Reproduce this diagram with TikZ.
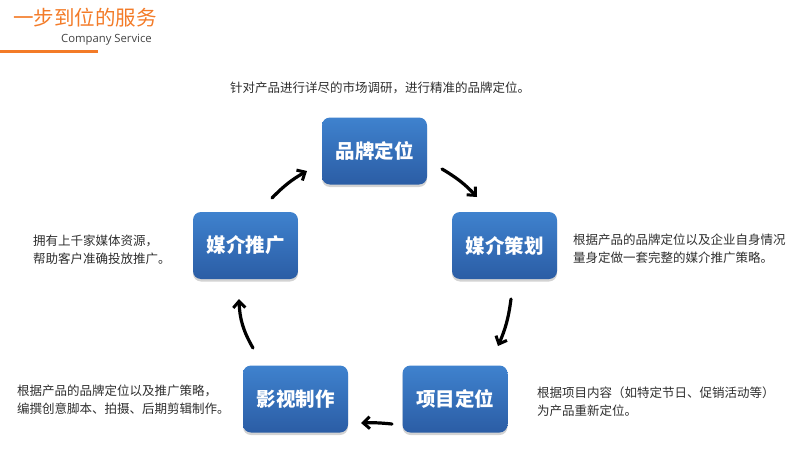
\documentclass[tikz,border=0pt]{standalone}
\usepackage{fontspec}
\setmainfont{Open Sans}
\newfontfamily\cjk{Noto Sans CJK SC}
\usetikzlibrary{arrows.meta,shadows}
\definecolor{headorange}{HTML}{F37B28}
\definecolor{boxtop}{HTML}{3F82CE}
\definecolor{boxbot}{HTML}{2B5DA5}
\definecolor{notegray}{HTML}{2E2E2E}

\begin{document}
\begin{tikzpicture}[x=1pt,y=-1pt,
	stage/.style={rounded corners=8pt, minimum width=105pt, minimum height=67pt,
		top color=boxtop, bottom color=boxbot, draw=none,
		drop shadow={shadow xshift=0pt, shadow yshift=-2.5pt, opacity=.35},
		text=white, font=\cjk\bfseries\fontsize{19.5}{22}\selectfont},
	note/.style={inner sep=0pt, align=left, text=notegray,
		font=\cjk\fontsize{12.5}{18}\selectfont},
	hand/.style={line width=3.2pt, line cap=round, -{Straight Barb[length=6.5pt,width=12pt,line width=3pt]}}]

	\useasboundingbox (0,0) rectangle (790,460);

	% header
	\node[inner sep=0pt, anchor=west, text=headorange, font=\cjk\fontsize{20.5}{22}\selectfont] (title) at (13,18) {一步到位的服务};
	\node[inner sep=0pt, anchor=east, text=notegray!90, font=\fontsize{11.3}{13}\selectfont] (subtitle) at (152,40) {Company Service};
	\draw[headorange, line width=3pt] (0,52) -- (98,52);

	% stages
	\node[stage] (brand) at (374.5,151) {品牌定位};
	\node[stage] (plan) at (504.5,245.5) {媒介策划};
	\node[stage] (project) at (455,399) {项目定位};
	\node[stage] (video) at (295.5,399) {影视制作};
	\node[stage] (promo) at (245.5,245.5) {媒介推广};

	% arrow ends
	\coordinate (p1) at (272,198);  \coordinate (q1) at (307,171);
	\coordinate (p2) at (442,169);  \coordinate (q2) at (477,197);
	\coordinate (p3) at (511,299);  \coordinate (q3) at (498,346);
	\coordinate (p4) at (392,424);  \coordinate (q4) at (361,423);
	\coordinate (p5) at (253,348);  \coordinate (q5) at (239,299);

	\draw[hand] (p1) to[bend left=8] (q1);
	\draw[hand] (p2) to[bend left=8] (q2);
	\draw[hand] (p3) to[bend left=8] (q3);
	\draw[hand] (p4) to[bend right=4] (q4);
	\draw[hand] (p5) to[bend left=14] (q5);

	% notes
	\node[note] (brandnote) at (380,88) {针对产品进行详尽的市场调研，进行精准的品牌定位。};
	\node[note, anchor=west] (plannote) at (573,249) {根据产品的品牌定位以及企业自身情况\\量身定做一套完整的媒介推广策略。};
	\node[note, anchor=west] (promonote) at (33,250) {拥有上千家媒体资源，\\帮助客户准确投放推广。};
	\node[note, anchor=west] (videonote) at (17,400) {根据产品的品牌定位以及推广策略，\\编撰创意脚本、拍摄、后期剪辑制作。};
	\node[note, anchor=west] (projectnote) at (537,402) {根据项目内容（如特定节日、促销活动等）\\为产品重新定位。};

\end{tikzpicture}
\end{document}
